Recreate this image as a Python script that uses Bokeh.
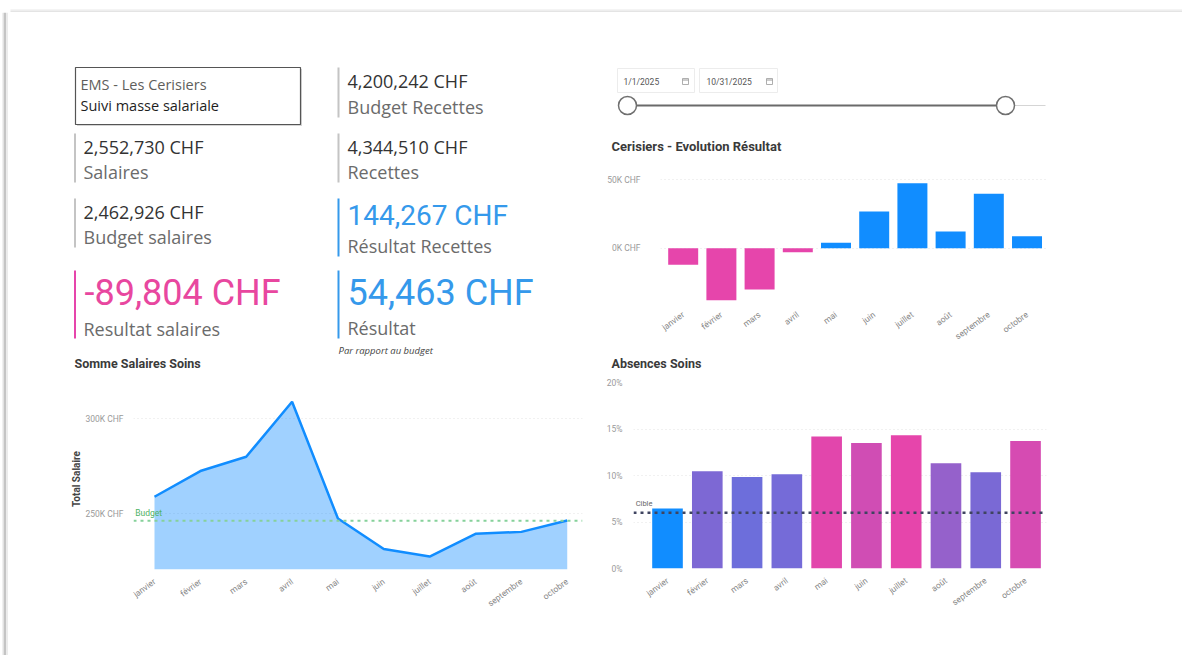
from bokeh.plotting import figure
from bokeh.layouts import column, row
from bokeh.models import Range1d, FixedTicker, CustomJSTickFormatter, NumeralTickFormatter, Span, Label
from bokeh.core.properties import value
from bokeh.embed import file_html
from bokeh.resources import INLINE

# ---------------- data ----------------
MONTHS = ["janvier", "février", "mars", "avril", "mai", "juin", "juillet", "août", "septembre", "octobre"]
RESULTAT = [-12100, -38000, -30000, -2900, 4000, 26700, 47300, 12100, 39600, 8700]
SALAIRES = [259000, 272500, 280000, 309000, 247500, 231500, 227500, 239500, 240500, 246500]
BUDGET_MENSUEL = 246300
ABSENCES = [0.0645, 0.1046, 0.0985, 0.1014, 0.1419, 0.1350, 0.1433, 0.1132, 0.1035, 0.1372]
CIBLE = 0.06

KPI_VALUES_LEFT = ["2,552,730 CHF", "2,462,926 CHF", "-89,804 CHF"]
KPI_LABELS_LEFT = ["Salaires", "Budget salaires", "Resultat salaires"]
KPI_VALUES_RIGHT = ["4,200,242 CHF", "4,344,510 CHF", "144,267 CHF", "54,463 CHF"]
KPI_LABELS_RIGHT = ["Budget Recettes", "Recettes", "Résultat Recettes", "Résultat"]
HEADER = ["EMS - Les Cerisiers", "Suivi masse salariale"]
DATES = ["1/1/2025", "10/31/2025"]
TITLES = ["Cerisiers - Evolution Résultat", "Somme Salaires Soins", "Absences Soins"]

BLUE = "#118DFF"
PINK = "#E645AB"
TXT_BLUE = "#3599EB"
TXT_PINK = "#E8479F"
IDX = list(range(len(MONTHS)))


def base_fig(w, h, **kw):
    p = figure(width=w, height=h, toolbar_location=None, tools="", output_backend="svg",
               outline_line_color=None, background_fill_color="white",
               border_fill_color="white", **kw)
    return p


def pixel_fig(w, h, ox, oy):
    p = base_fig(w, h, x_range=Range1d(ox, ox + w), y_range=Range1d(oy + h, oy),
                 min_border=0, x_axis_location=None, y_axis_location=None)
    p.xgrid.visible = False
    p.ygrid.visible = False
    return p


def txt(p, x, y, s, size, color, font="Open Sans", style="normal", align="left"):
    p.text(x=[x], y=[y], text=[s], text_font=value(font), text_font_size=f"{size}px",
           text_color=color, text_font_style=style, text_align=align, text_baseline="middle")


def style_axes(p):
    for ax in p.axis:
        ax.axis_line_color = None
        ax.major_tick_line_color = None
        ax.minor_tick_line_color = None
        ax.major_label_text_font = "Roboto"
        ax.major_label_text_font_size = "8.5px"
        ax.major_label_text_color = "#9a9a9a"
    p.xaxis.major_label_text_font_size = "8.5px"
    p.xaxis.major_label_text_color = "#888888"
    p.xaxis.ticker = FixedTicker(ticks=IDX)
    p.xaxis.major_label_overrides = {i: m for i, m in zip(IDX, MONTHS)}
    p.xaxis.major_label_orientation = 0.63
    p.xaxis.major_label_standoff = 5
    p.xgrid.visible = False
    p.ygrid.grid_line_color = "#e2e2e2"
    p.ygrid.grid_line_dash = "1 3"


# ---------------- frame decoration ----------------
top = pixel_fig(1182, 12, 0, 0)
top.quad(left=[10], right=[1182], top=[8.5], bottom=[10], fill_color="#f4f4f4", line_color=None)
top.quad(left=[10], right=[1182], top=[10], bottom=[12], fill_color="#e4e4e4", line_color=None)
side = pixel_fig(10, 643, 0, 12)
side.quad(left=[2], right=[3.5], top=[12], bottom=[655], fill_color="#e2e2e2", line_color=None)
side.quad(left=[3.5], right=[5.5], top=[12], bottom=[655], fill_color="#c4c4c4", line_color=None)
side.quad(left=[5.5], right=[7.5], top=[12], bottom=[655], fill_color="#ebebeb", line_color=None)

# ---------------- KPI panel (page x 10-600, y 12-374) ----------------
kpi = pixel_fig(590, 362, 10, 12)
kpi.quad(left=[76.5], right=[301.5], top=[68.5], bottom=[125.5], fill_color="#d5d5d5", line_color=None)
kpi.quad(left=[75], right=[300], top=[67], bottom=[124], fill_color="white", line_color="#555555", line_width=1.2)
txt(kpi, 80, 84, HEADER[0], 14.5, "#605E5C")
txt(kpi, 80, 105, HEADER[1], 14.5, "#1e1e1e")

left_layout = [(146, 171, 133, 182, 18, "#333333", "#c4c4c4", "Open Sans"),
               (211.5, 236.5, 198, 247, 18, "#333333", "#c4c4c4", "Open Sans"),
               (292.5, 328, 270, 338, 36, TXT_PINK, PINK, "Roboto")]
for (vy, ly, bt, bb, vs, vc, bc, vf), v, l in zip(left_layout, KPI_VALUES_LEFT, KPI_LABELS_LEFT):
    kpi.quad(left=[73.5], right=[75.5], top=[bt], bottom=[bb], fill_color=bc, line_color=None)
    txt(kpi, 83 if vs < 30 else 84, vy, v, vs, vc, font=vf)
    txt(kpi, 83, ly, l, 18, "#6b6b6b")

right_layout = [(80.5, 106, 67, 117, 18, "#333333", "#c4c4c4", "Open Sans"),
                (146, 171, 133, 182, 18, "#333333", "#c4c4c4", "Open Sans"),
                (215, 245, 198, 256, 28, TXT_BLUE, TXT_BLUE, "Roboto"),
                (292.5, 327.5, 270, 338, 36, TXT_BLUE, TXT_BLUE, "Roboto")]
for (vy, ly, bt, bb, vs, vc, bc, vf), v, l in zip(right_layout, KPI_VALUES_RIGHT, KPI_LABELS_RIGHT):
    kpi.quad(left=[337], right=[339], top=[bt], bottom=[bb], fill_color=bc, line_color=None)
    txt(kpi, 347, vy, v, vs, vc, font=vf)
    txt(kpi, 347, ly, l, 18, "#6b6b6b")

txt(kpi, 338, 349.5, "Par rapport au budget", 9.5, "#444444", style="italic")
txt(kpi, 74, 363, TITLES[1], 12.5, "#3a3a3a", font="Roboto", style="bold")

# ---------------- salary area chart (page x 10-600, y 374-655) ----------------
Y_MIN_S = 220700
ps = base_fig(590, 281, x_range=Range1d(-0.458, 9.333), y_range=Range1d(Y_MIN_S, 315950),
              min_border_left=123, min_border_right=18, min_border_top=14, min_border_bottom=86)
ps.varea(x=IDX, y1=[Y_MIN_S] * len(IDX), y2=SALAIRES, fill_color=BLUE, fill_alpha=0.4)
ps.line(x=IDX, y=SALAIRES, line_color=BLUE, line_width=2.5)
ps.add_layout(Span(location=BUDGET_MENSUEL, dimension="width", line_color="#86d19a",
                   line_width=2, line_dash="3 4"))
ps.add_layout(Label(x=-0.42, y=BUDGET_MENSUEL, y_offset=3, text="Budget", text_font="Roboto",
                    text_font_size="8.5px", text_color="#4fb366", text_baseline="bottom"))
style_axes(ps)
ps.yaxis.ticker = FixedTicker(ticks=[250000, 300000])
ps.yaxis.formatter = CustomJSTickFormatter(code="return (tick/1000).toFixed(0) + 'K CHF';")
ps.yaxis.major_label_standoff = 4
ps.yaxis.axis_label = "Total Salaire"
ps.yaxis.axis_label_text_font = "Roboto"
ps.yaxis.axis_label_text_font_style = "bold"
ps.yaxis.axis_label_text_font_size = "10px"
ps.yaxis.axis_label_text_color = "#444444"
ps.yaxis.axis_label_standoff = 0

# ---------------- slicer panel (page x 600-1182, y 12-158) ----------------
sl = pixel_fig(582, 146, 600, 12)
for (l, r, tx, ix), d in zip([(617, 694, 623, 685), (699, 777, 706, 769)], DATES):
    sl.quad(left=[l], right=[r], top=[68], bottom=[92], fill_color="white", line_color="#ececec")
    txt(sl, tx, 81.5, d, 8.5, "#555555", font="Roboto")
    sl.quad(left=[ix - 3], right=[ix + 3], top=[78], bottom=[84], fill_color=None, line_color="#9a9a9a", line_width=0.8)
    sl.segment(x0=[ix - 3], x1=[ix + 3], y0=[79.5], y1=[79.5], line_color="#9a9a9a", line_width=1)
sl.segment(x0=[1014], x1=[1045], y0=[105], y1=[105], line_color="#d5d5d5", line_width=1)
sl.segment(x0=[627], x1=[1005], y0=[105], y1=[105], line_color="#6a6a6a", line_width=2)
sl.scatter(x=[627, 1005], y=[105, 105], size=18, fill_color="white", line_color="#707070", line_width=1.5)
txt(sl, 611, 146, TITLES[0], 13, "#3a3a3a", font="Roboto", style="bold")

# ---------------- resultat chart (page x 600-1182, y 158-352) ----------------
pr = base_fig(582, 194, x_range=Range1d(-0.594, 9.51), y_range=Range1d(-39550, 55150),
              min_border_left=60, min_border_right=136, min_border_top=14, min_border_bottom=50)
pr.vbar(x=IDX, top=RESULTAT, bottom=0, width=0.785,
        fill_color=[BLUE if v >= 0 else PINK for v in RESULTAT], line_color=None)
style_axes(pr)
pr.yaxis.ticker = FixedTicker(ticks=[0, 50000])
pr.yaxis.formatter = CustomJSTickFormatter(code="return (tick/1000).toFixed(0) + 'K CHF';")
pr.yaxis.major_label_standoff = 14

# ---------------- absences title strip (page x 600-1182, y 352-374) ----------------
at = pixel_fig(582, 22, 600, 352)
txt(at, 611, 363, TITLES[2], 12.5, "#3a3a3a", font="Roboto", style="bold")

# ---------------- absences chart (page x 600-1182, y 374-655) ----------------
lo, hi = min(ABSENCES), max(ABSENCES)
c0, c1 = (17, 141, 255), (230, 69, 171)


def grad(v):
    t = (v - lo) / (hi - lo)
    return "#%02x%02x%02x" % tuple(int(round(a + (b - a) * t)) for a, b in zip(c0, c1))


pa = base_fig(582, 281, x_range=Range1d(-0.855, 9.527), y_range=Range1d(0, 0.2),
              min_border_left=33, min_border_right=136, min_border_top=8, min_border_bottom=87)
pa.vbar(x=IDX, top=ABSENCES, bottom=0, width=0.77, fill_color=[grad(v) for v in ABSENCES], line_color=None)
pa.add_layout(Span(location=CIBLE, dimension="width", line_color="#3f4460", line_width=2.5, line_dash="3 4"))
pa.add_layout(Label(x=-0.8, y=CIBLE, y_offset=5, text="Cible", text_font="Roboto",
                    text_font_size="7.5px", text_color="#666666", text_baseline="bottom"))
style_axes(pa)
pa.yaxis.ticker = FixedTicker(ticks=[0, 0.05, 0.10, 0.15, 0.20])
pa.yaxis.formatter = NumeralTickFormatter(format="0%")
pa.yaxis.major_label_standoff = 5

# ---------------- layout ----------------
left_col = column(row(kpi), row(ps), spacing=0)
right_col = column(row(sl), row(pr), row(at), row(pa), spacing=0)
root = column(top, row(side, left_col, right_col, spacing=0), spacing=0)

open("out.html", "w").write(file_html(root, INLINE))
